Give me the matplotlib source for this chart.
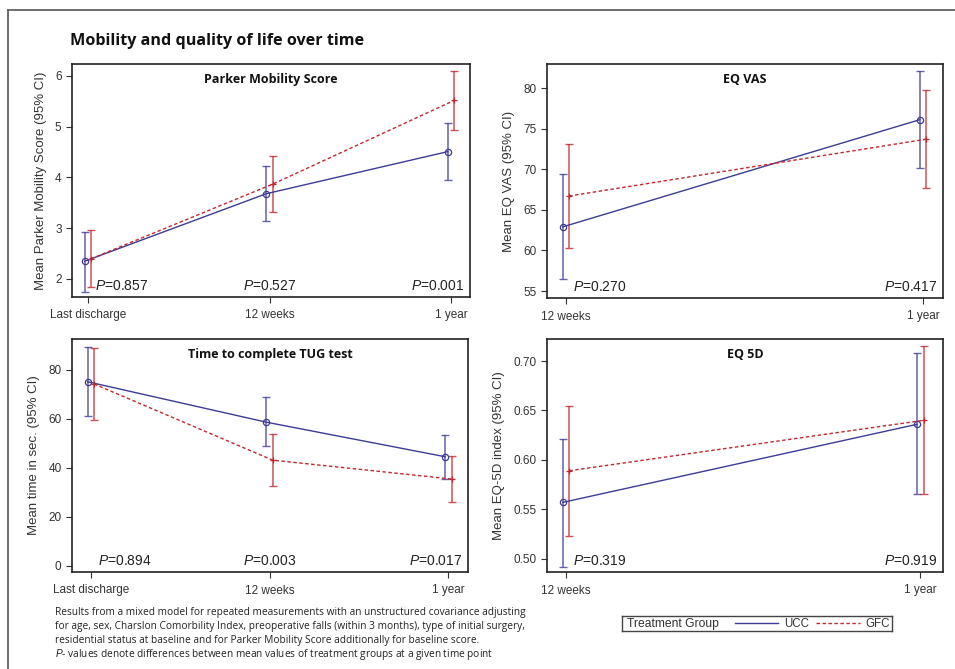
import numpy as np
import matplotlib.pyplot as plt
from matplotlib.lines import Line2D

plt.rcParams['font.family'] = ['Liberation Sans', 'DejaVu Sans']
plt.rcParams['mathtext.fontset'] = 'custom'
plt.rcParams['mathtext.it'] = 'Liberation Sans:italic'
plt.rcParams['mathtext.rm'] = 'Liberation Sans'

UCC_COL = '#3c3c96'
GFC_COL = '#c4262e'
TXT = '#333333'

# ---- data ----
pms_times = ['Last discharge', '12 weeks', '1 year']
pms_ucc = [2.35, 3.68, 4.51]
pms_ucc_lo = [1.75, 3.14, 3.96]
pms_ucc_hi = [2.93, 4.23, 5.07]
pms_gfc = [2.40, 3.87, 5.52]
pms_gfc_lo = [1.84, 3.32, 4.94]
pms_gfc_hi = [2.97, 4.43, 6.10]
pms_p = ['0.857', '0.527', '0.001']

vas_times = ['12 weeks', '1 year']
vas_ucc = [62.9, 76.1]
vas_ucc_lo = [56.5, 70.1]
vas_ucc_hi = [69.4, 82.1]
vas_gfc = [66.7, 73.7]
vas_gfc_lo = [60.3, 67.7]
vas_gfc_hi = [73.1, 79.8]
vas_p = ['0.270', '0.417']

tug_times = ['Last discharge', '12 weeks', '1 year']
tug_ucc = [75.2, 58.7, 44.6]
tug_ucc_lo = [61.2, 48.8, 35.5]
tug_ucc_hi = [89.5, 68.9, 53.5]
tug_gfc = [74.3, 43.2, 35.5]
tug_gfc_lo = [59.6, 32.5, 26.0]
tug_gfc_hi = [88.9, 54.0, 45.0]
tug_p = ['0.894', '0.003', '0.017']

eq5d_times = ['12 weeks', '1 year']
eq5d_ucc = [0.557, 0.636]
eq5d_ucc_lo = [0.492, 0.565]
eq5d_ucc_hi = [0.621, 0.708]
eq5d_gfc = [0.589, 0.640]
eq5d_gfc_lo = [0.523, 0.565]
eq5d_gfc_hi = [0.655, 0.715]
eq5d_p = ['0.319', '0.919']

W, H = 955, 669
fig = plt.figure(figsize=(W / 100, H / 100), dpi=100)


def px_axes(x0, y0, x1, y1):
    return fig.add_axes([x0 / W, 1 - y1 / H, (x1 - x0) / W, (y1 - y0) / H])


def panel(ax, title, times, ucc, ulo, uhi, gfc, glo, ghi, pvals, ylim, yticks,
          yfmt, ylabel, xlim, off):
    x = np.arange(len(times))
    ax.plot(x - off, ucc, color=UCC_COL, lw=1.0, marker='o', ms=4.5,
            mfc='none', mec=UCC_COL, mew=0.9, zorder=3)
    ax.errorbar(x - off, ucc, yerr=[np.array(ucc) - ulo, np.array(uhi) - ucc],
                fmt='none', ecolor=UCC_COL, elinewidth=1.1, capsize=3,
                capthick=1.0, alpha=0.8, zorder=2)
    ax.plot(x + off, gfc, color=GFC_COL, lw=1.0, ls=(0, (2.5, 1.8)),
            marker='+', ms=5, mew=0.9, zorder=3)
    ax.errorbar(x + off, gfc, yerr=[np.array(gfc) - glo, np.array(ghi) - gfc],
                fmt='none', ecolor=GFC_COL, elinewidth=1.1, capsize=3,
                capthick=1.0, alpha=0.8, zorder=2)
    ax.set_xlim(*xlim)
    ax.set_ylim(*ylim)
    ax.set_xticks(x)
    ax.set_xticklabels(times)
    ax.set_yticks(yticks)
    ax.set_yticklabels([yfmt.format(v) for v in yticks])
    ax.tick_params(colors=TXT, labelsize=8.5, length=4, width=0.8)
    ax.tick_params(axis='x', pad=5)
    for s in ax.spines.values():
        s.set_color('#222222')
        s.set_linewidth(1.2)
    ax.set_ylabel(ylabel, fontsize=9.5, color=TXT, labelpad=6)
    ax.set_title(title, fontsize=9, fontweight='bold', family='Open Sans',
                 y=1, pad=-14, color='#111111')
    n = len(times)
    for i, p in enumerate(pvals):
        lbl = '$P$=' + p
        if i == 0:
            ax.annotate(lbl, (x[0], ylim[0]), xytext=(5, 3),
                        textcoords='offset points', ha='left', va='bottom',
                        fontsize=10, color='#222222')
        elif i == n - 1:
            ax.annotate(lbl, (1, 0), xycoords='axes fraction', xytext=(-4, 3),
                        textcoords='offset points', ha='right', va='bottom',
                        fontsize=10, color='#222222')
        else:
            ax.annotate(lbl, (x[i], ylim[0]), xytext=(0, 3),
                        textcoords='offset points', ha='center', va='bottom',
                        fontsize=10, color='#222222')


ax1 = px_axes(72, 64, 470, 297)
panel(ax1, 'Parker Mobility Score', pms_times, pms_ucc, pms_ucc_lo, pms_ucc_hi,
      pms_gfc, pms_gfc_lo, pms_gfc_hi, pms_p, (1.645, 6.236), [2, 3, 4, 5, 6],
      '{:.0f}', 'Mean Parker Mobility Score (95% CI)', (-0.088, 2.104), 0.018)

ax2 = px_axes(547, 64, 943, 298)
panel(ax2, 'EQ VAS', vas_times, vas_ucc, vas_ucc_lo, vas_ucc_hi,
      vas_gfc, vas_gfc_lo, vas_gfc_hi, vas_p, (54.14, 82.96),
      [55, 60, 65, 70, 75, 80], '{:.0f}', 'Mean EQ VAS (95% CI)',
      (-0.053, 1.056), 0.009)

ax3 = px_axes(72, 339, 468, 572)
panel(ax3, 'Time to complete TUG test', tug_times, tug_ucc, tug_ucc_lo,
      tug_ucc_hi, tug_gfc, tug_gfc_lo, tug_gfc_hi, tug_p, (-2.45, 92.65),
      [0, 20, 40, 60, 80], '{:.0f}', 'Mean time in sec. (95% CI)',
      (-0.105, 2.11), 0.018)

ax4 = px_axes(547, 339, 943, 572)
panel(ax4, 'EQ 5D', eq5d_times, eq5d_ucc, eq5d_ucc_lo, eq5d_ucc_hi,
      eq5d_gfc, eq5d_gfc_lo, eq5d_gfc_hi, eq5d_p, (0.4865, 0.7223),
      [0.50, 0.55, 0.60, 0.65, 0.70], '{:.2f}', 'Mean EQ-5D index (95% CI)',
      (-0.054, 1.064), 0.009)

# outer frame
fig.add_artist(Line2D([8 / W, 1], [1 - 10 / H, 1 - 10 / H], color='#555555', lw=1.2))
fig.add_artist(Line2D([8 / W, 8 / W], [0, 1 - 10 / H], color='#555555', lw=1.2))

fig.text(70 / W, 1 - 41 / H, 'Mobility and quality of life over time',
         fontsize=11.6, fontweight='bold', family='Open Sans', va='center',
         color='#111111')

notes = ['Results from a mixed model for repeated measurements with an unstructured covariance adjusting',
         'for age, sex, Charslon Comorbility Index, preoperative falls (within 3 months), type of initial surgery,',
         'residential status at baseline and for Parker Mobility Score additionally for baseline score.',
         '$P$- values denote differences between mean values of treatment groups at a given time point']
for i, t in enumerate(notes):
    fig.text(55 / W, 1 - (613 + 14 * i) / H, t, fontsize=7.3, va='center',
             family='Open Sans', color='#222222')

# legend box
lg = px_axes(622, 616, 892, 631)
lg.set_xlim(0, 270)
lg.set_ylim(0, 15)
lg.set_xticks([])
lg.set_yticks([])
for s in lg.spines.values():
    s.set_color('#444444')
    s.set_linewidth(1.0)
lg.text(5, 4, 'Treatment Group', fontsize=8.7, va='baseline', color=TXT)
lg.plot([113, 156], [8, 8], color=UCC_COL, lw=1.0)
lg.text(162, 4, 'UCC', fontsize=8.3, va='baseline', color=TXT)
lg.plot([194, 238], [8, 8], color=GFC_COL, lw=1.0, ls=(0, (2.5, 1.8)))
lg.text(243, 4, 'GFC', fontsize=8.3, va='baseline', color=TXT)

fig.savefig('out.png', dpi=100)
